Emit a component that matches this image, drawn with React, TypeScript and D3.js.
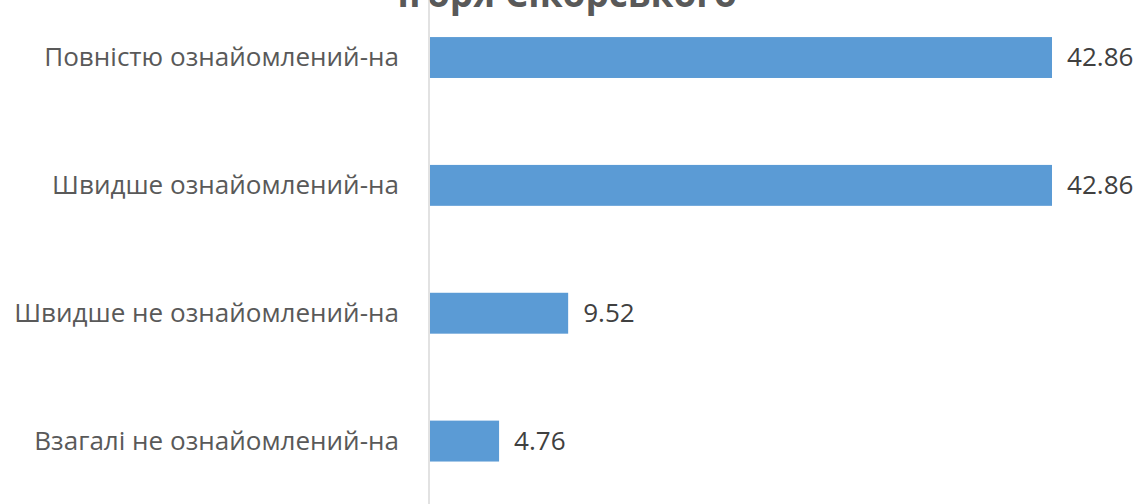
import { useEffect, useRef } from 'react';
import * as d3 from 'd3';

const categories = [
  'Повністю ознайомлений-на',
  'Швидше ознайомлений-на',
  'Швидше не ознайомлений-на',
  'Взагалі не ознайомлений-на',
];
const values = [42.86, 42.86, 9.52, 4.76];
const titleText = 'Ігоря Сікорського';

const WIDTH = 1133;
const HEIGHT = 504;

export default function App() {
  const svgRef = useRef<SVGSVGElement>(null);

  useEffect(() => {
    const svg = d3.select(svgRef.current);
    svg.selectAll('*').remove();

    const font = '"Open Sans", Lato, sans-serif';

    // scales: plot area runs slightly past the picture edges (chart is cropped)
    const x = d3.scaleLinear().domain([0, 42.86]).range([430, 1052]);
    const y = d3.scaleBand<string>()
      .domain(categories)
      .range([-6.4, 505])
      .paddingInner(0.68)
      .paddingOuter(0.34);

    const data = categories.map((c, i) => ({ label: c, value: values[i] }));

    // title (only bottom line visible, chart is cropped at the top)
    const title = svg.append('text')
      .attr('x', 567)
      .attr('y', 7)
      .attr('text-anchor', 'middle')
      .style('font-family', font)
      .style('font-size', '30px')
      .style('font-weight', 'bold')
      .style('fill', '#595959')
      .text(titleText);
    const tw = (title.node() as SVGTextElement).getComputedTextLength();
    if (tw > 0) title.style('font-size', `${(30 * 340) / tw}px`);

    // bars
    svg.selectAll('.bar')
      .data(data)
      .enter().append('rect')
      .attr('class', 'bar')
      .attr('x', x(0))
      .attr('y', d => y(d.label)!)
      .attr('width', d => x(d.value) - x(0))
      .attr('height', y.bandwidth())
      .attr('fill', '#5b9bd5');

    // vertical axis line
    svg.append('line')
      .attr('x1', x(0) - 1)
      .attr('x2', x(0) - 1)
      .attr('y1', 0)
      .attr('y2', HEIGHT)
      .attr('stroke', '#d9d9d9')
      .attr('stroke-width', 1.5);

    // category labels
    const cats = svg.selectAll('.cat')
      .data(data)
      .enter().append('text')
      .attr('class', 'cat')
      .attr('x', x(0) - 31)
      .attr('y', d => y(d.label)! + y.bandwidth() / 2 + 8.5)
      .attr('text-anchor', 'end')
      .style('font-family', font)
      .style('font-size', '22px')
      .style('fill', '#595959')
      .text(d => d.label);

    // fit label size to the reference width of the first label (~355px)
    const lw = (cats.node() as SVGTextElement).getComputedTextLength();
    const labelSize = lw > 0 ? (22 * 355) / lw : 22;
    cats.style('font-size', `${labelSize}px`);

    // value labels
    svg.selectAll('.val')
      .data(data)
      .enter().append('text')
      .attr('class', 'val')
      .attr('x', d => x(d.value) + 15)
      .attr('y', d => y(d.label)! + y.bandwidth() / 2 + 8.5)
      .style('font-family', font)
      .style('font-size', `${labelSize}px`)
      .style('fill', '#404040')
      .text(d => d.value.toFixed(2));
  }, []);

  return (
    <svg
      ref={svgRef}
      width={WIDTH}
      height={HEIGHT}
      style={{ position: 'absolute', left: 0, top: 0, background: '#fff' }}
    />
  );
}
